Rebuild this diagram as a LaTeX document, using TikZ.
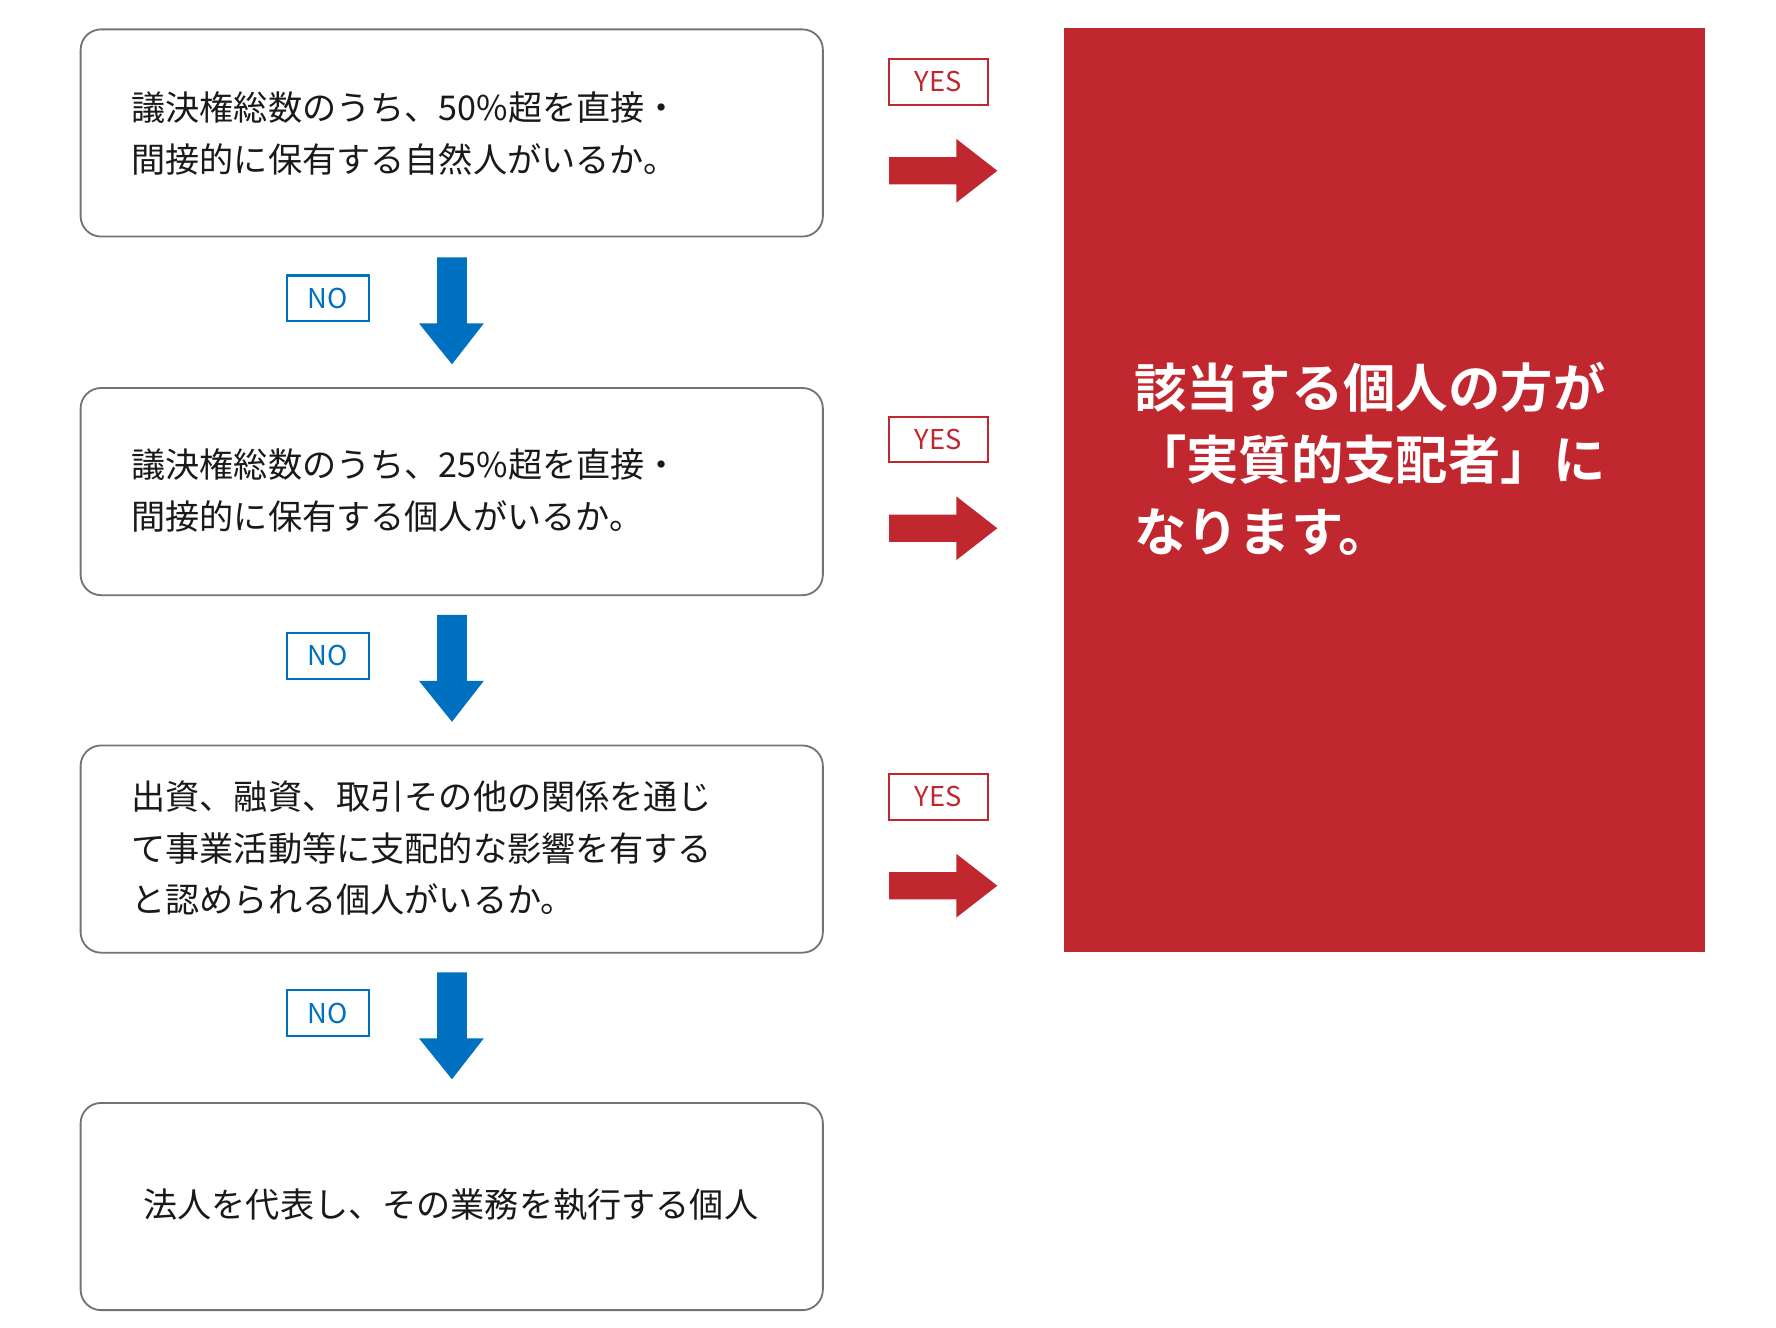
\documentclass[tikz,border=0pt]{standalone}
\usepackage{fontspec}
\setmainfont{Noto Sans CJK JP}
\newfontfamily\jpb[BoldFont={* Bold}]{Noto Sans CJK JP}
\begin{document}
\begin{tikzpicture}[x=1pt,y=-1pt,
  qbox/.style={draw=black!55,line width=1.6pt,rounded corners=18pt,minimum width=652pt,minimum height=182pt,anchor=north west,inner sep=0pt},
  qtext/.style={anchor=west,align=left,font=\fontsize{30}{45.5}\selectfont,text=black!90},
  nobox/.style={draw=blue!60!cyan!70!black,line width=1.8pt,minimum width=72pt,minimum height=40pt,inner sep=0pt,text=blue!60!cyan!70!black,font=\fontsize{24}{24}\selectfont},
  yesbox/.style={draw=red!70!black,line width=1.8pt,minimum width=87pt,minimum height=40pt,inner sep=0pt,text=red!70!black,font=\fontsize{24}{24}\selectfont}]
\definecolor{myblue}{HTML}{0070C0}
\definecolor{myred}{HTML}{C1272F}
\useasboundingbox (0,0) rectangle (1560,1166);
\node[qbox] (b1) at (70,25) {};
\node[qbox] (b2) at (70,340) {};
\node[qbox] (b3) at (70,654) {};
\node[qbox] (b4) at (70,968) {};
\node[qtext] (t1) at (112,117) {議決権総数のうち、50\%超を直接・\\間接的に保有する自然人がいるか。};
\node[qtext] (t2) at (112,431) {議決権総数のうち、25\%超を直接・\\間接的に保有する個人がいるか。};
\node[qtext] (t3) at (112,745) {出資、融資、取引その他の関係を通じ\\て事業活動等に支配的な影響を有する\\と認められる個人がいるか。};
\node[qtext,anchor=center] (t4) at (396,1058) {法人を代表し、その業務を執行する個人};
\foreach \y/\n in {226/1,540/2,854/3}{
  \fill[myblue] (384,\y) -- (410,\y) -- (410,\y+58) -- (425,\y+58) -- (397,\y+94) -- (368,\y+58) -- (384,\y+58) -- cycle;
  \node[nobox,draw=myblue,text=myblue] (no\n) at (288,\y+36) {NO};
}
\foreach \y/\n in {150/1,464/2,778/3}{
  \fill[myred] (781,\y-12) -- (840,\y-12) -- (840,\y-28) -- (876,\y) -- (840,\y+28) -- (840,\y+12) -- (781,\y+12) -- cycle;
  \node[yesbox,draw=myred,text=myred] (yes\n) at (824,\y-78) {YES};
}
\fill[myred] (935,25) rectangle (1498,836);
\node[anchor=north west,align=left,text=white,font=\jpb\bfseries\fontsize{46}{63}\selectfont,inner sep=0pt] (res) at (996,318) {該当する個人の方が\\「実質的支配者」に\\なります。};
\end{tikzpicture}
\end{document}
